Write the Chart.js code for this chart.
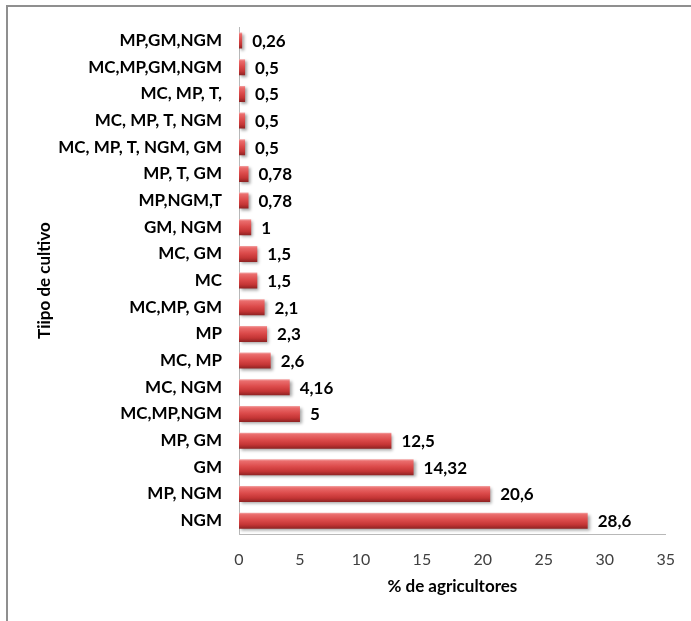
<!DOCTYPE html>
<html>
<head>
<meta charset="utf-8">
<script src="https://cdn.jsdelivr.net/npm/chart.js@4/dist/chart.umd.min.js"></script>
<style>
  html, body { margin: 0; padding: 0; background: #fff; }
  #wrap { position: relative; width: 691px; height: 621px; }
</style>
</head>
<body>
<div id="wrap"><canvas id="c" width="691" height="621"></canvas></div>
<script>
// Crop combinations, listed top to bottom
const categories = [
  'MP,GM,NGM', 'MC,MP,GM,NGM', 'MC, MP, T,', 'MC, MP, T, NGM', 'MC, MP, T, NGM, GM',
  'MP, T, GM', 'MP,NGM,T', 'GM, NGM', 'MC, GM', 'MC', 'MC,MP, GM', 'MP', 'MC, MP',
  'MC, NGM', 'MC,MP,NGM', 'MP, GM', 'GM', 'MP, NGM', 'NGM'
];
// Share of farmers (%)
const farmerShare = [
  0.26, 0.5, 0.5, 0.5, 0.5, 0.78, 0.78, 1, 1.5, 1.5, 2.1, 2.3, 2.6,
  4.16, 5, 12.5, 14.32, 20.6, 28.6
];
const xTicks = [0, 5, 10, 15, 20, 25, 30, 35];

const FONT = 'Lato';
let barFills = [];

// Vertical gradient per bar, built once the scales are laid out
const gradientPlugin = {
  id: 'barGradient',
  afterLayout(chart) {
    const ctx = chart.ctx;
    const y = chart.scales.y;
    const half = y.height / categories.length * 0.6 / 2;
    barFills = categories.map((_, i) => {
      const cy = y.getPixelForValue(i);
      const g = ctx.createLinearGradient(0, cy - half, 0, cy + half);
      g.addColorStop(0, '#f4a5a5');
      g.addColorStop(0.12, '#ea6c6c');
      g.addColorStop(0.45, '#dc4b4b');
      g.addColorStop(0.75, '#c43535');
      g.addColorStop(1, '#8e2222');
      return g;
    });
  }
};

// Soft drop shadow under the bars
const shadowPlugin = {
  id: 'barShadow',
  beforeDatasetsDraw(chart) {
    const ctx = chart.ctx;
    ctx.save();
    ctx.shadowColor = 'rgba(0,0,0,0.35)';
    ctx.shadowBlur = 3;
    ctx.shadowOffsetX = 2;
    ctx.shadowOffsetY = 2;
  },
  afterDatasetsDraw(chart) {
    chart.ctx.restore();
  }
};

// Value labels to the right of each bar, decimal comma
const valueLabels = {
  id: 'valueLabels',
  afterDatasetsDraw(chart) {
    const ctx = chart.ctx;
    const meta = chart.getDatasetMeta(0);
    ctx.save();
    ctx.font = `bold 17px ${FONT}`;
    ctx.fillStyle = '#000';
    ctx.textAlign = 'left';
    ctx.textBaseline = 'middle';
    meta.data.forEach((bar, i) => {
      const txt = String(farmerShare[i]).replace('.', ',');
      ctx.fillText(txt, bar.x + 10, bar.y + 1);
    });
    ctx.restore();
  }
};

// Frame lines along the top and left edges
const framePlugin = {
  id: 'frame',
  beforeDraw(chart) {
    const ctx = chart.ctx;
    ctx.save();
    ctx.strokeStyle = '#8f8f8f';
    ctx.lineWidth = 2;
    ctx.beginPath();
    ctx.moveTo(7, 621);
    ctx.lineTo(7, 6);
    ctx.lineTo(691, 6);
    ctx.stroke();
    ctx.restore();
  }
};

new Chart(document.getElementById('c'), {
  type: 'bar',
  data: {
    labels: categories,
    datasets: [{
      data: farmerShare,
      backgroundColor: (c) => barFills[c.dataIndex] || '#d04040',
      borderWidth: 0,
      barPercentage: 0.6,
      categoryPercentage: 1
    }]
  },
  options: {
    indexAxis: 'y',
    responsive: false,
    animation: false,
    devicePixelRatio: 1,
    layout: { padding: { top: 27, right: 24, left: 0, bottom: 0 } },
    plugins: {
      legend: { display: false },
      tooltip: { enabled: false }
    },
    scales: {
      x: {
        min: 0,
        max: 35,
        afterBuildTicks: (s) => { s.ticks = xTicks.map(v => ({ value: v })); },
        afterFit: (s) => { s.height = 87; },
        grid: { display: false, drawTicks: false },
        border: { display: true, color: '#b8b8b8', width: 1 },
        ticks: {
          padding: 16,
          color: '#404040',
          font: { family: FONT, size: 16 }
        },
        title: {
          display: true,
          text: '% de agricultores',
          color: '#000',
          font: { family: FONT, size: 17, weight: 'bold' },
          padding: { top: 0, bottom: 24 }
        }
      },
      y: {
        afterFit: (s) => { s.width = 239; },
        grid: { display: false, drawTicks: false },
        border: { display: true, color: '#b8b8b8', width: 1 },
        ticks: {
          padding: 17,
          color: '#000',
          font: { family: FONT, size: 17, weight: 'bold' }
        },
        title: {
          display: true,
          text: 'Tiipo de cultivo',
          color: '#000',
          font: { family: FONT, size: 17, weight: 'bold' },
          padding: { top: 34, bottom: 0 }
        }
      }
    }
  },
  plugins: [gradientPlugin, shadowPlugin, valueLabels, framePlugin]
});
</script>
</body>
</html>
